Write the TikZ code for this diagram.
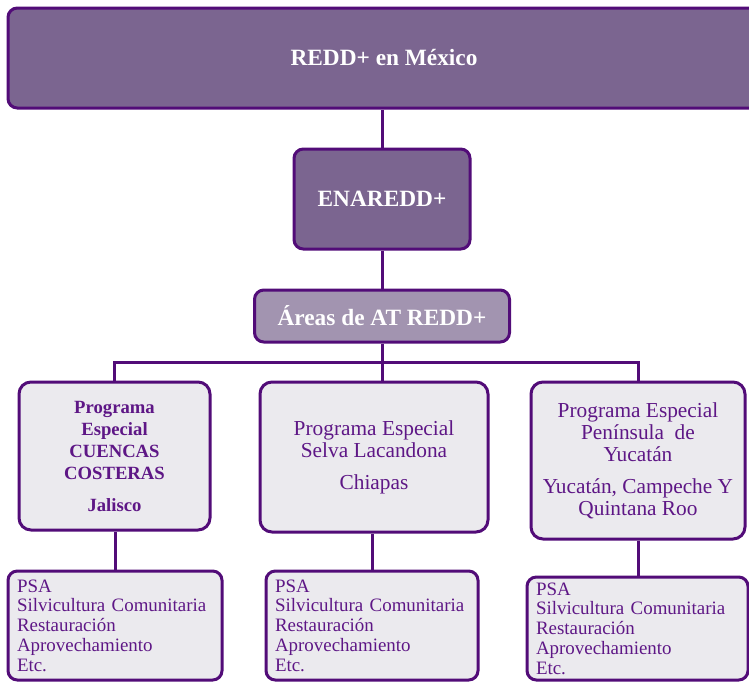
\documentclass[tikz,border=0pt]{standalone}
\usepackage{fontspec}
\setmainfont{Liberation Serif}
\definecolor{borde}{HTML}{520C78}
\definecolor{lila}{HTML}{7B6590}
\definecolor{lilaclaro}{HTML}{A294B0}
\definecolor{gris}{HTML}{EBEAEE}
\definecolor{morado}{HTML}{5E1786}
\tikzset{
  enlace/.style={draw=borde, line width=2.25pt},
  caja/.style ={draw=borde, line width=2.25pt, rounded corners=7pt, fill=lila, text=white, inner sep=0pt, font=\bfseries\fontsize{17.5}{20}\selectfont},
  prog/.style ={draw=borde, line width=2.25pt, rounded corners=9pt, fill=gris, text=morado, align=center, inner sep=0pt, font=\fontsize{16}{16.5}\selectfont},
  lista/.style={draw=borde, line width=2.25pt, rounded corners=7pt, fill=gris, text=morado, align=left, inner xsep=6.75pt, inner ysep=0pt, font=\fontsize{14.2}{14.8}\selectfont}
}
\begin{document}
\begin{tikzpicture}[x=0.75pt, y=-0.75pt]
\clip (0,0) rectangle (749,682);
\node[caja, minimum width=564pt, minimum height=75pt] (mexico) at (384,58) {REDD+ en México};
\node[caja, minimum width=132pt, minimum height=75pt] (enaredd) at (382,199) {ENAREDD+};
\node[caja, fill=lilaclaro, minimum width=191.25pt, minimum height=39pt] (areas) at (382,316) {Áreas de AT REDD+};

\node[prog, font=\bfseries\fontsize{14}{16.5}\selectfont, minimum width=143.25pt, minimum height=111pt] (jalisco) at (114.5,456)
  {Programa\\Especial\\CUENCAS\\COSTERAS\\[7.5pt]Jalisco};
\node[prog, minimum width=171pt, minimum height=112.5pt] (chiapas) at (374,457)
  {Programa Especial\\Selva Lacandona\\[7.5pt]Chiapas};
\node[prog, minimum width=160.5pt, minimum height=117.75pt] (yucatan) at (638,460.5)
  {Programa Especial\\Península\ \ de\\Yucatán\\[7.5pt]Yucatán, Campeche Y\\Quintana Roo};

\node[lista, text width=147pt, minimum height=81.75pt] (listaj) at (115,625.5)
  {PSA\\Silvicultura Comunitaria\\Restauración\\Aprovechamiento\\Etc.};
\node[lista, text width=145.5pt, minimum height=81.75pt] (listac) at (372,625.5)
  {PSA\\Silvicultura Comunitaria\\Restauración\\Aprovechamiento\\Etc.};
\node[lista, text width=152.25pt, minimum height=77.25pt] (listay) at (637.5,628.5)
  {PSA\\Silvicultura Comunitaria\\Restauración\\Aprovechamiento\\Etc.};

\coordinate (bus) at (382,362);
\draw[enlace] (enaredd.north) -- (enaredd.north |- mexico.south);
\draw[enlace] (enaredd.south) -- (areas.north);
\draw[enlace] (areas.south) -- (bus);
\draw[enlace] (jalisco.north) -- (jalisco.north |- bus) -- (yucatan.north |- bus) -- (yucatan.north);
\draw[enlace] (bus) -- (bus |- chiapas.north);
\draw[enlace] (listaj.north) -- (listaj.north |- jalisco.south);
\draw[enlace] (listac.north) -- (listac.north |- chiapas.south);
\draw[enlace] (yucatan.south) -- (yucatan.south |- listay.north);
\end{tikzpicture}
\end{document}
